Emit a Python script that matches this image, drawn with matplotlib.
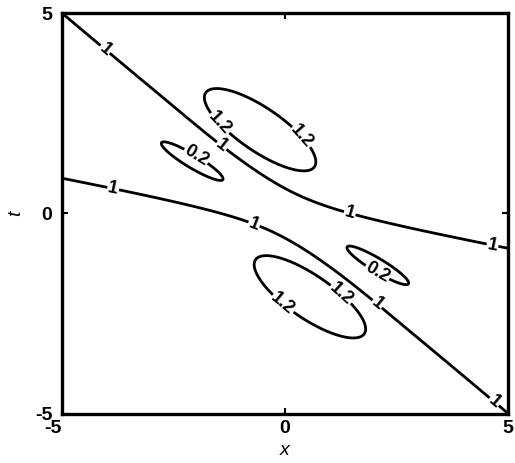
import numpy as np
import matplotlib.pyplot as plt

plt.rcParams['font.family'] = ['Liberation Sans', 'DejaVu Sans']
plt.rcParams['font.weight'] = 'bold'
plt.rcParams['axes.unicode_minus'] = False

# contour levels that get drawn and labelled
levels = [0.2, 1, 1.2]
level_fmt = {0.2: '0.2', 1: '1', 1.2: '1.2'}

# upper front t = a + b*x + c*sqrt((x - x0)^2 + w^2), lower front is its mirror through the origin
front_a, front_b, front_c, front_x0, front_w = 0.15, -0.58, 0.37, 0.1, 1.3
front_height = 0.1   # offset from 1 away from the fronts
front_sharp = 3.0

# localized humps (amp > 0) and holes (amp < 0)
lump_x = [-0.56, 0.56, -2.08, 2.08]
lump_t = [2.08, -2.08, 1.3, -1.3]
lump_amp = [0.5, 0.5, -1.2, -1.2]
lump_len = [1.21, 1.21, 1.13, 1.13]
lump_wid = [0.42, 0.42, 0.22, 0.22]
lump_ang = [-38, -38, -34, -34]

# label spots per level
label_pos = {
    1: [(-4.08, 4.03), (-1.41, 1.7), (1.46, 0.03), (4.66, -0.75),
        (-3.86, 0.575), (-0.72, -0.35), (2.13, -2.18), (4.71, -4.68)],
    1.2: [(-1.46, 2.25), (0.34, 1.88), (-0.04, -2.25), (1.23, -2.05)],
    0.2: [(-2.02, 1.38), (2.06, -1.5)],
}


def front(x):
    return front_a + front_b * x + front_c * np.sqrt((x - front_x0) ** 2 + front_w ** 2)


def build_field(xx, tt):
    f = 1 + front_height * np.tanh(front_sharp * (tt - front(xx))) * np.tanh(front_sharp * (tt + front(-xx)))
    for x0, t0, amp, ln, wd, ang in zip(lump_x, lump_t, lump_amp, lump_len, lump_wid, lump_ang):
        th = np.deg2rad(ang)
        dx, dt = xx - x0, tt - t0
        along = dx * np.cos(th) + dt * np.sin(th)
        across = -dx * np.sin(th) + dt * np.cos(th)
        f += amp * np.exp(-(along / ln) ** 2 - (across / wd) ** 2)
    return f


def main():
    x = np.linspace(-5, 5, 601)
    t = np.linspace(-5, 5, 601)
    xx, tt = np.meshgrid(x, t)
    field = build_field(xx, tt)

    fig = plt.figure(figsize=(5.15, 4.63), dpi=100)
    ax = fig.add_axes([62 / 515, 1 - 413.5 / 463, 446 / 515, 400.5 / 463])

    # one contour set per level so each gets its own label spots
    for lev in levels:
        cs = ax.contour(xx, tt, field, levels=[lev], colors='black', linewidths=2.0)
        ax.clabel(cs, fmt=level_fmt, manual=label_pos[lev], inline=True,
                  inline_spacing=1, fontsize=13)

    ax.set_xlim(-5, 5)
    ax.set_ylim(-5, 5)
    ax.set_xticks([-5, 0, 5])
    ax.set_yticks([-5, 0, 5])
    ax.tick_params(direction='in', top=True, right=True, length=4, width=1.5,
                   labelsize=14)
    ax.tick_params(axis='x', pad=5)
    ax.tick_params(axis='y', pad=7)
    ax.get_xticklabels()[0].set_horizontalalignment('right')
    for s in ax.spines.values():
        s.set_linewidth(2.4)
    ax.set_xlabel('x', fontsize=14, style='italic', labelpad=3)
    ax.set_ylabel('t', fontsize=14, style='italic', labelpad=8)

    fig.savefig('out.png', dpi=100)


if __name__ == "__main__":
    main()
